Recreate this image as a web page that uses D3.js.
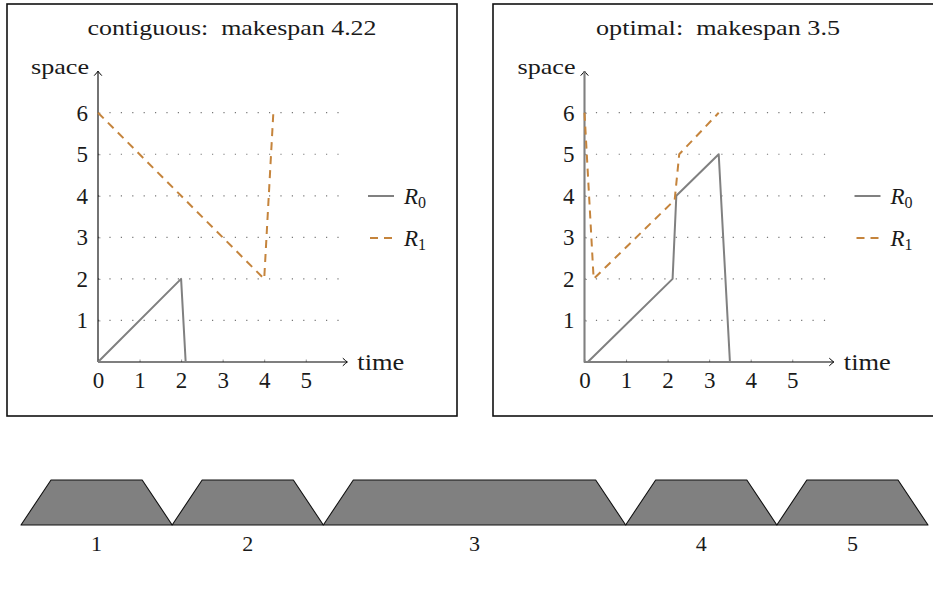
<!DOCTYPE html>
<html>
<head>
<meta charset="utf-8">
<script src="https://cdn.jsdelivr.net/npm/d3@7"></script>
<style>
  html, body { margin: 0; padding: 0; background: #fff; }
  svg text { font-family: "Liberation Serif", "DejaVu Serif", serif; fill: #1a1a1a; }
</style>
</head>
<body>
<svg id="chart" width="933" height="589"></svg>
<script>
// ---------- data ----------
const timeTicks = [0, 1, 2, 3, 4, 5];
const spaceTicks = [1, 2, 3, 4, 5, 6];
const panelTitles = ["contiguous:  makespan 4.22", "optimal:  makespan 3.5"];
const seriesNames = ["R0", "R1"];
// contiguous schedule
const contiguousR0 = [[0, 0], [2, 2], [2.11, 0]];
const contiguousR1 = [[0, 6], [4, 2], [4.22, 6]];
// optimal schedule
const optimalR0 = [[0, 7], [0, 0], [0.08, 0], [2.12, 2], [2.21, 4], [3.23, 5], [3.5, 0]];
const optimalR1 = [[0, 6], [0.22, 2], [2.17, 3.9], [2.28, 5], [3.23, 6]];
// bottom blocks
const blockLabels = ["1", "2", "3", "4", "5"];
const blockWidths = [1, 1, 2, 1, 1];

// ---------- drawing ----------
const svg = d3.select("#chart");
const R0color = "#808080";
const R1color = "#c5843c";

const defs = svg.append("defs");
defs.append("marker")
  .attr("id", "arr").attr("viewBox", "-6 -5 8 10")
  .attr("refX", 0).attr("refY", 0)
  .attr("markerWidth", 8).attr("markerHeight", 10)
  .attr("markerUnits", "userSpaceOnUse").attr("orient", "auto")
  .append("path").attr("d", "M-4.5,-3.8 Q-1.2,-0.8 0,0 Q-1.2,0.8 -4.5,3.8")
  .attr("fill", "none").attr("stroke", "#000").attr("stroke-width", 1);

const panels = [
  { boxX: 7, originX: 98, title: panelTitles[0], titleW: 289, r0: contiguousR0, r1: contiguousR1 },
  { boxX: 493, originX: 584.5, title: panelTitles[1], titleW: 244, r0: optimalR0, r1: optimalR1 }
];

const originY = 362;
const unit = 41.55;

panels.forEach(p => {
  const g = svg.append("g");
  // frame
  g.append("rect").attr("x", p.boxX).attr("y", 4).attr("width", 450).attr("height", 412)
    .attr("fill", "none").attr("stroke", "#111").attr("stroke-width", 1.6);
  g.append("text").attr("x", p.boxX + 225).attr("y", 35)
    .attr("text-anchor", "middle").style("font-size", "22px").style("white-space", "pre")
    .attr("textLength", p.titleW).attr("lengthAdjust", "spacingAndGlyphs")
    .text(p.title);

  const x = d3.scaleLinear().domain([0, 6]).range([p.originX, p.originX + 6 * unit]);
  const y = d3.scaleLinear().domain([0, 7]).range([originY, originY - 7 * unit]);

  // grid
  g.append("g").selectAll("line").data(spaceTicks).join("line")
    .attr("x1", x(0)).attr("x2", x(6))
    .attr("y1", d => y(d)).attr("y2", d => y(d))
    .attr("stroke", "#777").attr("stroke-width", 1.2)
    .attr("stroke-dasharray", "1.2 10.2");

  // axes with ticks
  const xa = g.append("g").attr("transform", `translate(0,${originY})`)
    .call(d3.axisBottom(x).tickValues(timeTicks).tickSize(-2.5).tickPadding(10).tickFormat(d3.format("d")));
  xa.select(".domain").remove();
  xa.selectAll("line").attr("stroke", "#999");
  xa.selectAll("text").style("font-size", "23px").attr("fill", "#1a1a1a");

  const ya = g.append("g").attr("transform", `translate(${x(0)},0)`)
    .call(d3.axisLeft(y).tickValues(spaceTicks).tickSize(-2.5).tickPadding(10).tickFormat(d3.format("d")));
  ya.select(".domain").remove();
  ya.selectAll("line").attr("stroke", "#999");
  ya.selectAll("text").style("font-size", "23px").attr("fill", "#1a1a1a");

  // axis lines with arrows
  g.append("line").attr("x1", x(0)).attr("y1", y(0)).attr("x2", x(6)).attr("y2", y(0))
    .attr("stroke", "#000").attr("stroke-width", 1.1).attr("marker-end", "url(#arr)");
  g.append("line").attr("x1", x(0)).attr("y1", y(0)).attr("x2", x(0)).attr("y2", y(7))
    .attr("stroke", "#000").attr("stroke-width", 1.1).attr("marker-end", "url(#arr)");
  g.append("text").attr("x", x(0) - 9).attr("y", 74).attr("text-anchor", "end")
    .style("font-size", "22px").attr("textLength", 58).attr("lengthAdjust", "spacingAndGlyphs")
    .text("space");
  g.append("text").attr("x", x(6) + 10).attr("y", 370)
    .style("font-size", "23px").attr("textLength", 47).attr("lengthAdjust", "spacingAndGlyphs")
    .text("time");

  const line = d3.line().x(d => x(d[0])).y(d => y(d[1]));
  g.append("path").datum(p.r0).attr("d", line)
    .attr("fill", "none").attr("stroke", R0color).attr("stroke-width", 2).attr("stroke-linejoin", "round");
  g.append("path").datum(p.r1).attr("d", line)
    .attr("fill", "none").attr("stroke", R1color).attr("stroke-width", 2)
    .attr("stroke-dasharray", "8 6");

  // legend
  const lx = p.originX + 270;
  const lg = g.append("g");
  seriesNames.forEach((name, i) => {
    const ly = 196 + i * 42;
    lg.append("line").attr("x1", lx).attr("x2", lx + 26).attr("y1", ly).attr("y2", ly)
      .attr("stroke", i === 0 ? R0color : R1color).attr("stroke-width", 2)
      .attr("stroke-dasharray", i === 0 ? null : "8 6").attr("stroke-dashoffset", i === 0 ? 0 : -2);
    const t = lg.append("text").attr("x", lx + 36).attr("y", ly + 8).style("font-size", "23px");
    t.append("tspan").style("font-style", "italic").text(name[0]);
    t.append("tspan").attr("dy", 4).style("font-size", "16px").text(name.slice(1));
  });
});

// bottom trapezoids
const xb = d3.scaleLinear().domain([0, d3.sum(blockWidths)]).range([21, 928]);
const starts = blockWidths.map((w, i) => d3.sum(blockWidths.slice(0, i)));
const topY = 480, botY = 525, slant = 30;
const bg = svg.append("g");
bg.selectAll("path").data(blockWidths).join("path")
  .attr("d", (w, i) => {
    const a = xb(starts[i]), b = xb(starts[i] + w);
    return `M${a},${botY}L${a + slant},${topY}L${b - slant},${topY}L${b},${botY}Z`;
  })
  .attr("fill", "#808080").attr("stroke", "#111").attr("stroke-width", 1.1).attr("stroke-linejoin", "round");
bg.selectAll("text").data(blockLabels).join("text")
  .attr("x", (d, i) => xb(starts[i] + blockWidths[i] / 2))
  .attr("y", 551).attr("text-anchor", "middle").style("font-size", "22px")
  .text(d => d);
</script>
</body>
</html>
